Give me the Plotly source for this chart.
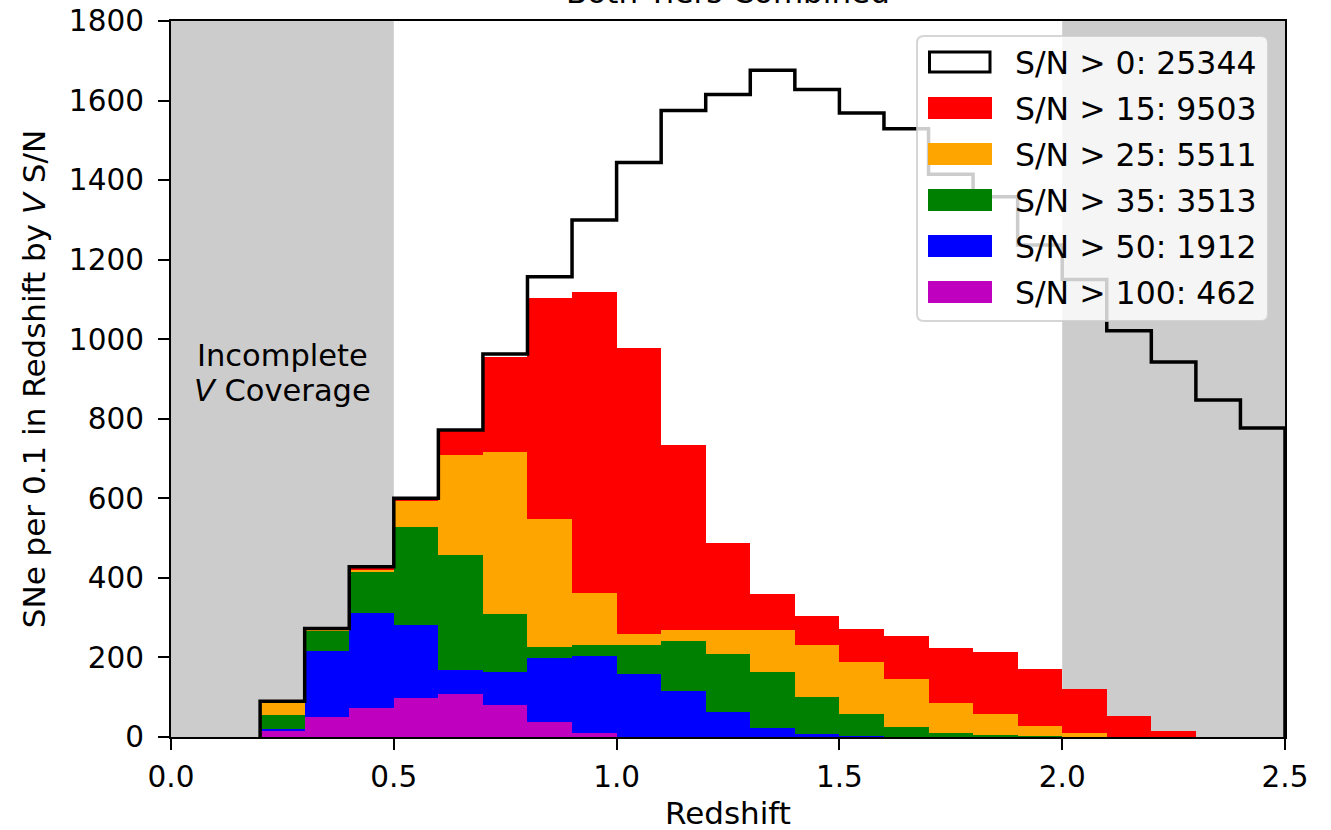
import plotly.graph_objects as go

# ---------------- data ----------------
bin_edges = [0.2, 0.3, 0.4, 0.5, 0.6, 0.7, 0.8, 0.9, 1.0, 1.1, 1.2, 1.3,
             1.4, 1.5, 1.6, 1.7, 1.8, 1.9, 2.0, 2.1, 2.2, 2.3, 2.4, 2.5]

sn_all = [90, 273, 428, 600, 772, 963, 1157, 1300, 1444, 1575, 1615, 1676,
          1628, 1569, 1529, 1415, 1358, 1237, 1150, 1021, 943, 847, 777]
sn_15 = [90, 272, 425, 597, 770, 955, 1103, 1119, 977, 734, 487, 359,
         304, 271, 254, 224, 214, 171, 121, 53, 15, 0, 0]
sn_25 = [88, 269, 420, 594, 709, 716, 548, 361, 260, 270, 270, 269,
         231, 189, 146, 85, 59, 28, 9, 0, 0, 0, 0]
sn_35 = [55, 267, 416, 529, 458, 308, 227, 231, 231, 241, 209, 163,
         101, 58, 25, 10, 4, 1, 0, 0, 0, 0, 0]
sn_50 = [20, 216, 311, 282, 168, 164, 199, 204, 158, 116, 63, 23,
         8, 2, 0, 0, 0, 0, 0, 0, 0, 0, 0]
sn_100 = [15, 51, 72, 99, 108, 80, 37, 9, 0, 0, 0, 0,
          0, 0, 0, 0, 0, 0, 0, 0, 0, 0, 0]

legend_labels = ["S/N > 0: 25344", "S/N > 15: 9503", "S/N > 25: 5511",
                 "S/N > 35: 3513", "S/N > 50: 1912", "S/N > 100: 462"]
colors = ["#ff0000", "#ffa500", "#008000", "#0000ff", "#bf00bf"]
incomplete_regions = [(0.0, 0.5), (2.0, 2.5)]

FONT = "DejaVu Sans"
FS_TICK = 29.5
FS_LEG = 31.5
FS_LAB = 31
FS_ANN = 30.5

# ---------------- geometry helpers (pixel -> paper) ----------------
PL, PR, PT, PB = 171, 1285, 21, 737
W, H = 1331, 830


def fx(px):
    return (px - PL) / (PR - PL)


def fy(py):
    return (PB - py) / (PB - PT)


centers = [(a + b) / 2 for a, b in zip(bin_edges[:-1], bin_edges[1:])]
widths = [b - a for a, b in zip(bin_edges[:-1], bin_edges[1:])]

fig = go.Figure()

for vals, col, lab in zip([sn_15, sn_25, sn_35, sn_50, sn_100], colors, legend_labels[1:]):
    fig.add_trace(go.Bar(x=centers, y=vals, width=widths, marker_color=col,
                         marker_line_width=0, name=lab, showlegend=False))

# step outline for S/N > 0
step_x = [bin_edges[0]] + bin_edges[:-1] + [bin_edges[-1], bin_edges[-1]]
step_y = [0] + sn_all + [sn_all[-1], 0]
fig.add_trace(go.Scatter(x=step_x, y=step_y, mode="lines",
                         line=dict(color="black", width=3.5, shape="hv"),
                         name=legend_labels[0], showlegend=False))

shapes = []
for x0, x1 in incomplete_regions:
    shapes.append(dict(type="rect", xref="x", yref="paper", x0=x0, x1=x1, y0=0, y1=1,
                       fillcolor="#cccccc", line_width=0, layer="below"))

# ---- manual legend (matplotlib-style) ----
lx0, lx1, ly0, ly1 = 917, 1268, 36, 321
r = 7
rx, ry = r / (PR - PL), r / (PB - PT)
X0, X1, Y0, Y1 = fx(lx0), fx(lx1), fy(ly1), fy(ly0)
path = (f"M {X0+rx},{Y0} L {X1-rx},{Y0} Q {X1},{Y0} {X1},{Y0+ry} "
        f"L {X1},{Y1-ry} Q {X1},{Y1} {X1-rx},{Y1} L {X0+rx},{Y1} "
        f"Q {X0},{Y1} {X0},{Y1-ry} L {X0},{Y0+ry} Q {X0},{Y0} {X0+rx},{Y0} Z")
shapes.append(dict(type="path", xref="paper", yref="paper", path=path,
                   fillcolor="rgba(255,255,255,0.8)",
                   line=dict(color="rgba(204,204,204,0.8)", width=2), layer="above"))

annotations = []
row0, row_step = 62, 46
for i, lab in enumerate(legend_labels):
    cy = row0 + row_step * i
    if i == 0:
        shapes.append(dict(type="rect", xref="paper", yref="paper",
                           x0=fx(929.5), x1=fx(990), y0=fy(cy + 10), y1=fy(cy - 10),
                           fillcolor="rgba(0,0,0,0)", line=dict(color="black", width=3),
                           layer="above"))
    else:
        shapes.append(dict(type="rect", xref="paper", yref="paper",
                           x0=fx(928), x1=fx(992), y0=fy(cy + 11), y1=fy(cy - 11),
                           fillcolor=colors[i - 1], line_width=0, layer="above"))
    annotations.append(dict(x=fx(1013), y=fy(cy + 1), xref="paper", yref="paper",
                            xanchor="left", yanchor="middle", showarrow=False,
                            text=lab, font=dict(family=FONT, size=FS_LEG, color="black")))

# incomplete coverage label
annotations.append(dict(x=0.25, y=fy(355), xref="x", yref="paper", showarrow=False,
                        xanchor="center", yanchor="middle", text="Incomplete",
                        font=dict(family=FONT, size=FS_ANN, color="black")))
annotations.append(dict(x=0.25, y=fy(390), xref="x", yref="paper", showarrow=False,
                        xanchor="center", yanchor="middle", text="<i>V</i> Coverage",
                        font=dict(family=FONT, size=FS_ANN, color="black")))

# x-axis title
annotations.append(dict(x=0.5, y=fy(813), xref="paper", yref="paper", showarrow=False,
                        xanchor="center", yanchor="middle", text="Redshift",
                        font=dict(family=FONT, size=FS_LAB, color="black")))

# title (cut off at top in the original)
annotations.append(dict(x=0.5, y=1, xref="paper", yref="paper", showarrow=False,
                        xanchor="center", yanchor="bottom", yshift=9,
                        text="Both Tiers Combined",
                        font=dict(family=FONT, size=FS_LAB, color="black")))

fig.update_layout(
    width=W, height=H,
    margin=dict(l=PL, r=W - PR, t=PT, b=H - PB, autoexpand=False),
    plot_bgcolor="white", paper_bgcolor="white",
    barmode="overlay", bargap=0,
    showlegend=False,
    font=dict(family=FONT, size=FS_TICK, color="black"),
    shapes=shapes, annotations=annotations,
)
fig.update_xaxes(range=[0, 2.5], tickvals=[0, 0.5, 1.0, 1.5, 2.0, 2.5],
                 ticktext=["0.0", "0.5", "1.0", "1.5", "2.0", "2.5"],
                 showgrid=False, zeroline=False, showline=True, mirror=True,
                 linecolor="black", linewidth=2.3, ticks="outside", ticklen=11,
                 tickwidth=2.3, tickcolor="black", ticklabelstandoff=1,
                 automargin=False)
fig.update_yaxes(range=[0, 1800], tickvals=list(range(0, 1801, 200)),
                 showgrid=False, zeroline=False, showline=True, mirror=True,
                 linecolor="black", linewidth=2.3, ticks="outside", ticklen=11,
                 tickwidth=2.3, tickcolor="black", ticklabelstandoff=8,
                 automargin=False,
                 title=dict(text="SNe per 0.1 in Redshift by <i>V</i> S/N", standoff=14,
                            font=dict(family=FONT, size=FS_LAB)))

fig.write_html("out.html")
